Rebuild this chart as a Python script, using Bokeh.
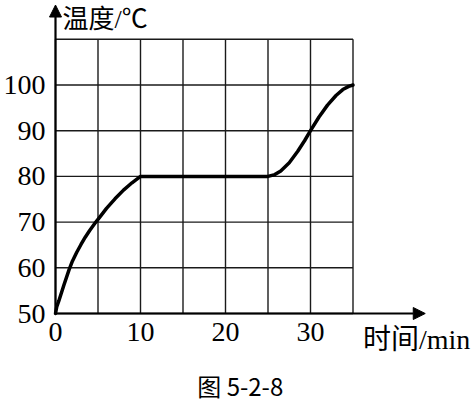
from bokeh.plotting import figure
from bokeh.models import Range1d, Arrow, NormalHead
from bokeh.core.properties import value
from bokeh.embed import file_html
from bokeh.resources import INLINE

# data
time_min = [0, 0.15, 0.4, 1.0, 1.6, 2.0, 2.5, 3.0, 3.5, 4.0, 4.7, 5.3, 6.0, 7.0, 8.0, 9.0, 10.0,
            15, 20, 25, 25.8, 26.5, 27.5, 28.5, 29.3, 30.0, 31.0, 32.0, 33.0, 33.8, 34.5, 35.0]
temp_c = [50, 51.5, 52.8, 56.3, 59.6, 61.5, 63.4, 65.1, 66.7, 68.1, 69.9, 71.3, 73.0, 75.1, 77.0, 78.6, 80,
          80, 80, 80, 80.4, 81.2, 83.0, 85.5, 87.8, 90.0, 93.0, 95.6, 97.7, 99.0, 99.7, 100]
x_ticks = [0, 10, 20, 30]
x_tick_labels = ["0", "10", "20", "30"]
y_ticks = [50, 60, 70, 80, 90, 100]
y_tick_labels = ["50", "60", "70", "80", "90", "100"]
x_grid = [0, 5, 10, 15, 20, 25, 30, 35]
y_grid = [50, 60, 70, 80, 90, 100, 110]
y_label = "温度/℃"
x_label = "时间/min"
caption = "图 5-2-8"

SERIF = "Liberation Serif"
MIXED = "Liberation Serif, Noto Sans CJK SC"
CJK = "Noto Sans CJK SC"

W, H = 474, 404
PX_X, PX_Y = 8.5, 4.57      # pixels per data unit
X0_PX, Y0_PX = 55, 313      # canvas position of the origin (0, 50)
p = figure(width=W, height=H, output_backend="svg", toolbar_location=None,
           x_range=Range1d(-X0_PX / PX_X, (W - X0_PX) / PX_X),
           y_range=Range1d(50 - (H - Y0_PX) / PX_Y, 50 + Y0_PX / PX_Y),
           min_border=0)
p.axis.visible = False
p.grid.visible = False
p.outline_line_color = None
p.background_fill_color = "white"
p.border_fill_color = "white"

gx0, gx1 = x_grid[0], x_grid[-1]
gy0, gy1 = y_grid[0], y_grid[-1]
x_tip = 43.5
y_tip = 117.5

# grid
p.segment(x0=x_grid, y0=[gy0] * len(x_grid), x1=x_grid, y1=[gy1] * len(x_grid),
          line_color="#1a1a1a", line_width=1.4)
p.segment(x0=[gx0] * len(y_grid), y0=y_grid, x1=[gx1] * len(y_grid), y1=y_grid,
          line_color="#1a1a1a", line_width=1.4)

# axes with arrows
p.add_layout(Arrow(end=NormalHead(size=12, fill_color="black", line_color="black"),
                   x_start=gx0, y_start=gy0, x_end=gx0, y_end=y_tip,
                   line_width=2.2, line_color="black"))
p.add_layout(Arrow(end=NormalHead(size=12, fill_color="black", line_color="black"),
                   x_start=gx0, y_start=gy0, x_end=x_tip, y_end=gy0,
                   line_width=2.2, line_color="black"))

# curve
p.line(time_min, temp_c, line_color="black", line_width=3.5, line_join="round", line_cap="round")

# tick labels
p.text(x=x_ticks, y=[gy0] * len(x_ticks), text=x_tick_labels, y_offset=9,
       text_align="center", text_baseline="top", text_font=value(SERIF),
       text_font_size="28px", text_color="black")
p.text(x=[gx0] * len(y_ticks), y=y_ticks, text=y_tick_labels, x_offset=-10,
       text_align="right", text_baseline="middle", text_font=value(SERIF),
       text_font_size="28px", text_color="black")

# axis titles and caption
p.text(x=[gx0], y=[gy1], text=[y_label], x_offset=7, y_offset=-5,
       text_align="left", text_baseline="bottom", text_font=value(MIXED),
       text_font_size="26px", text_color="black")
p.text(x=[gx1], y=[gy0], text=[x_label], x_offset=10, y_offset=10,
       text_align="left", text_baseline="top", text_font=value(MIXED),
       text_font_size="28px", text_color="black")
p.text(x=[(gx0 + gx1) / 2], y=[gy0], text=[caption], x_offset=36, y_offset=54,
       text_align="center", text_baseline="top", text_font=value(CJK),
       text_font_size="24px", text_color="black")

open("out.html", "w").write(file_html(p, INLINE))
